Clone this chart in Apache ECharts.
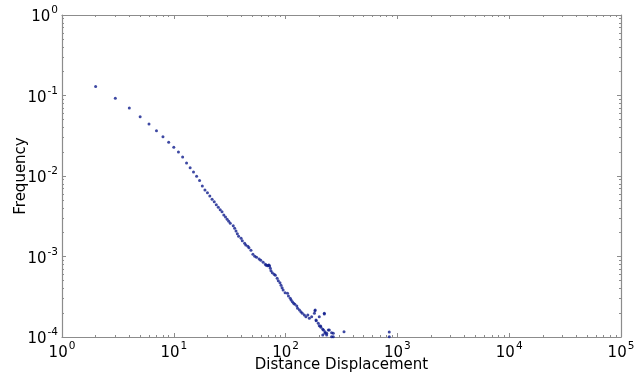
<!DOCTYPE html>
<html>
<head>
<meta charset="utf-8">
<script src="https://cdn.jsdelivr.net/npm/echarts@6/dist/echarts.min.js"></script>
<style>
  html, body { margin: 0; padding: 0; background: #fff; }
  #chart { width: 643px; height: 375px; }
</style>
</head>
<body>
<div id="chart"></div>
<script>
// Distance displacement (x) and its observed frequency (y)
const dist = [
  2, 3, 4, 5, 6, 7, 8, 9, 10, 11, 12, 13, 14, 15, 16, 17, 18, 19, 20,
  21, 22, 23, 24, 25, 26, 27, 28, 29, 30, 31, 32, 34, 35, 36, 37, 38, 40,
  41, 43, 44, 46, 47, 49, 51, 53, 55, 58, 60, 63, 66, 67, 69, 70, 71, 72,
  73, 74, 76, 79, 81, 84, 86, 89, 91, 93, 95, 99, 104, 106, 110, 112, 115,
  118, 121, 126, 128, 133, 137, 141, 147, 152, 158, 163, 171, 181, 183, 184,
  187, 188, 196, 200, 200, 206, 207, 215, 215, 218, 222, 222, 225, 225, 233,
  233, 241, 246, 258, 258, 267, 267, 333, 846, 846
];
const freq = [
  0.129, 0.0923, 0.070, 0.0545, 0.0443, 0.0366, 0.0308, 0.0262, 0.0227,
  0.0199, 0.0172, 0.0145, 0.0127, 0.0112, 0.0099, 0.0088, 0.0075, 0.0067,
  0.0062, 0.00565, 0.00514, 0.00480, 0.00440, 0.00408, 0.00381, 0.00360,
  0.00328, 0.00310, 0.00290, 0.00274, 0.00258, 0.00241, 0.00224, 0.00207,
  0.00192, 0.00178, 0.00168, 0.00157, 0.00146, 0.00139, 0.00134, 0.00128,
  0.00120, 0.00107, 0.00101, 0.000977, 0.000931, 0.000897, 0.000847,
  0.000800, 0.000778, 0.000769, 0.000778, 0.000784, 0.000762, 0.000713,
  0.000667, 0.000630, 0.000600, 0.000584, 0.000536, 0.000500, 0.000473,
  0.000439, 0.000410, 0.000384, 0.000355, 0.000349, 0.000323, 0.000303,
  0.000288, 0.000275, 0.000262, 0.000255, 0.000243, 0.000228, 0.000216,
  0.000206, 0.000197, 0.000188, 0.000179, 0.000188, 0.000171, 0.000179,
  0.000197, 0.000212, 0.000216, 0.000163, 0.000159, 0.000148, 0.000138,
  0.000179, 0.000137, 0.000132, 0.000125, 0.000106, 0.000122, 0.000197,
  0.000193, 0.000116, 0.000111, 0.000111, 0.000106, 0.000122, 0.000122,
  0.000113, 0.000101, 0.000111, 0.000101, 0.000116, 0.000115, 0.000101
];

// Decade tick positions for both axes
const xMajorTicks = [1, 10, 100, 1000, 10000, 100000];
const yMajorTicks = [0.0001, 0.001, 0.01, 0.1, 1];

// Minor ticks at 2..9 times each decade
function minorTicks(majors) {
  const out = [];
  for (let i = 0; i < majors.length - 1; i++) {
    for (let k = 2; k <= 9; k++) out.push(majors[i] * k);
  }
  return out;
}
const xMinorTicks = minorTicks(xMajorTicks);
const yMinorTicks = minorTicks(yMajorTicks);

const FONT = "'DejaVu Sans', sans-serif";
const AXIS_GREY = '#8c8c8c';

const powerLabel = v => '{b|10}{s|' + Math.round(Math.log10(v)) + '}';
const powerRich = {
  b: { fontSize: 15, fontFamily: FONT, color: '#000', lineHeight: 20, verticalAlign: 'bottom' },
  s: { fontSize: 10.5, fontFamily: FONT, color: '#000', lineHeight: 20, verticalAlign: 'top', padding: [0, 0, 0, 1] }
};

function makeAxis(pos, majorOrMinor, ticks, isX, extra) {
  const major = majorOrMinor === 'major';
  const ax = {
    type: 'log',
    logBase: 10,
    min: isX ? 1 : 0.0001,
    max: isX ? 100000 : 1,
    position: pos,
    splitLine: { show: false },
    axisLine: { show: major, lineStyle: { color: AXIS_GREY, width: 1.2 } },
    axisTick: {
      show: true,
      inside: true,
      length: major ? 4 : 2,
      customValues: ticks,
      lineStyle: { color: AXIS_GREY, width: 1 }
    },
    axisLabel: { show: false }
  };
  return Object.assign(ax, extra || {});
}

const chart = echarts.init(document.getElementById('chart'), null, { renderer: 'canvas' });

chart.setOption({
  animation: false,
  backgroundColor: '#fff',
  grid: {
    left: 62, top: 15, right: 22, bottom: 38,
    containLabel: false,
    outerBoundsMode: 'none'
  },
  xAxis: [
    makeAxis('bottom', 'major', xMajorTicks, true, {
      name: 'Distance Displacement',
      nameLocation: 'middle',
      nameGap: 21,
      nameMoveOverlap: false,
      nameTextStyle: { fontSize: 15, fontFamily: FONT, color: '#000', verticalAlign: 'top' },
      axisLabel: {
        show: true,
        customValues: xMajorTicks,
        margin: 4,
        formatter: powerLabel,
        rich: powerRich
      }
    }),
    makeAxis('bottom', 'minor', xMinorTicks, true),
    makeAxis('top', 'major', xMajorTicks, true),
    makeAxis('top', 'minor', xMinorTicks, true)
  ],
  yAxis: [
    makeAxis('left', 'major', yMajorTicks, false, {
      name: 'Frequency',
      nameLocation: 'middle',
      nameGap: 33,
      nameMoveOverlap: false,
      nameTextStyle: { fontSize: 15, fontFamily: FONT, color: '#000' },
      axisLabel: {
        show: true,
        customValues: yMajorTicks,
        margin: 4,
        formatter: powerLabel,
        rich: powerRich
      }
    }),
    makeAxis('left', 'minor', yMinorTicks, false),
    makeAxis('right', 'major', yMajorTicks, false),
    makeAxis('right', 'minor', yMinorTicks, false)
  ],
  series: [{
    type: 'scatter',
    xAxisIndex: 0,
    yAxisIndex: 0,
    symbol: 'circle',
    symbolSize: 3,
    itemStyle: { color: '#0e1c8c', borderWidth: 0 },
    data: dist.map((d, i) => [d, freq[i]])
  }]
});
</script>
</body>
</html>
